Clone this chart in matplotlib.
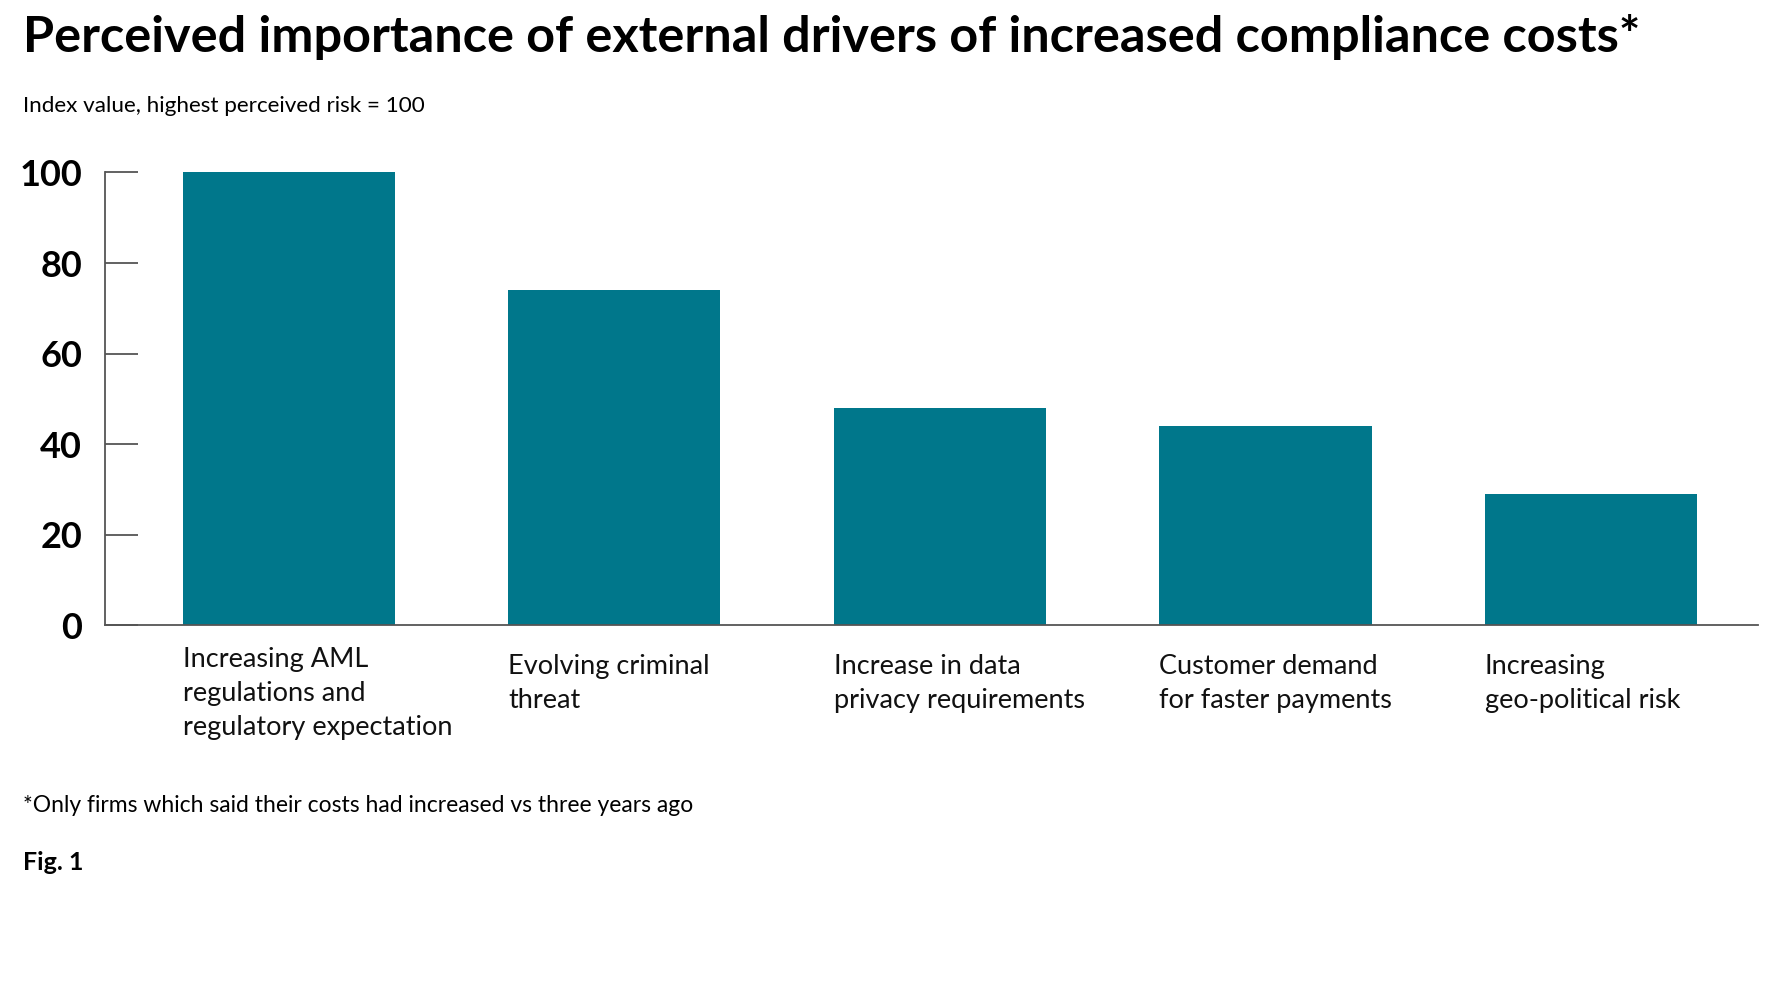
import matplotlib.pyplot as plt
import matplotlib.transforms as mtransforms

# dados do grafico (indice, maior risco = 100)
drivers = ['Increasing AML\nregulations and\nregulatory expectation',
           'Evolving criminal\nthreat',
           'Increase in data\nprivacy requirements',
           'Customer demand\nfor faster payments',
           'Increasing\ngeo-political risk']
index_values = [100, 74, 48, 44, 29]
yticks = [0, 20, 40, 60, 80, 100]

plt.rcParams['font.family'] = ['Lato', 'DejaVu Sans']

fig = plt.figure(figsize=(17.76, 9.97), dpi=100)
ax = fig.add_axes([0.0594, 0.373, 0.9306, 0.454])

x = list(range(len(drivers)))
bar_w = 0.652
ax.bar(x, index_values, width=bar_w, color='#00778B')

ax.set_xlim(-0.563, 4.514)
ax.set_ylim(0, 100)
ax.set_yticks(yticks)
ax.set_yticklabels([str(v) for v in yticks], fontsize=26, fontweight='bold')
ax.tick_params(axis='y', direction='in', length=24, width=1.3, color='#555555', pad=17)
ax.set_xticks([])
for s in ['top', 'right']:
    ax.spines[s].set_visible(False)
for s in ['left', 'bottom']:
    ax.spines[s].set_color('#555555')
    ax.spines[s].set_linewidth(1.3)

# rotulos das barras, alinhados a esquerda de cada barra
trans = mtransforms.blended_transform_factory(ax.transData, ax.transAxes)
for i in x:
    n_lines = drivers[i].count('\n') + 1
    y_top = -0.048 if n_lines == 3 else -0.063  # rotulo de 3 linhas sobe um pouco
    ax.text(i - bar_w / 2, y_top, drivers[i], transform=trans, ha='left', va='top',
            fontsize=19.5, linespacing=1.45, color='#111111')

fig.text(0.0128, 0.963, 'Perceived importance of external drivers of increased compliance costs*',
         fontsize=36.3, fontweight='bold', va='center', ha='left')
fig.text(0.0128, 0.894, 'Index value, highest perceived risk = 100', fontsize=16.2, va='center', ha='left')
fig.text(0.0128, 0.192, '*Only firms which said their costs had increased vs three years ago',
         fontsize=16.5, va='center', ha='left')
fig.text(0.0128, 0.135, 'Fig. 1', fontsize=18, fontweight='bold', va='center', ha='left')

fig.savefig('out.png', dpi=100, facecolor='white')
